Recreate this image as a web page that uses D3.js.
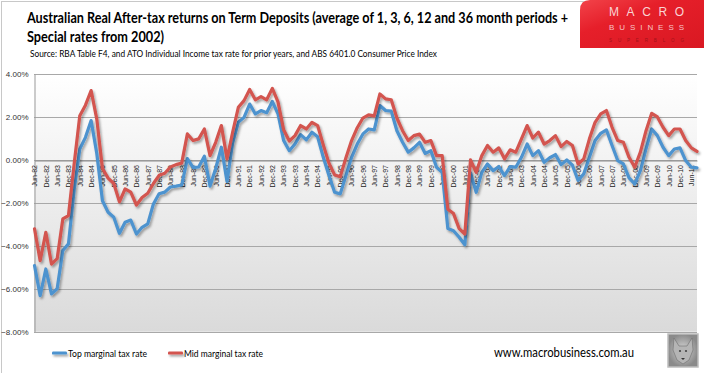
<!DOCTYPE html>
<html>
<head>
<meta charset="utf-8">
<script src="https://cdn.jsdelivr.net/npm/d3@7"></script>
<style>
html,body{margin:0;padding:0;background:#fff;}
svg{display:block;}
</style>
</head>
<body>
<svg id="chart" width="704" height="373"></svg>
<script>
// ---- DATA ----
const startYear = 1982;           // first quarter: Jun-82
const monthNames = ["Jun","Sep","Dec","Mar"];
const categories = [];
for (let i = 0; i < 118; i++) {
  const m = monthNames[i % 4];
  const yr = startYear + Math.floor((i + 1) / 4);
  categories.push(m + "-" + String(yr % 100).padStart(2, "0"));
}
const seriesNames = ["Top marginal tax rate", "Mid marginal tax rate"];
const topMarginal = [
  -4.92,-6.32,-5.08,-6.24,-6.0,-4.22,-3.91,-1.4,0.51,1.05,
  1.83,0.3,-1.9,-2.44,-2.67,-3.42,-2.9,-2.8,-3.45,-3.14,
  -2.98,-2.05,-1.58,-1.5,-1.26,-1.22,-1.17,0.06,-0.36,-0.33,
  0.17,-1.22,-0.4,0.59,-1.0,0.8,1.75,1.98,2.6,2.14,
  2.3,2.2,2.72,2.14,0.9,0.43,0.74,1.18,0.93,1.29,
  1.08,0.12,-0.73,-1.51,-1.58,-0.73,0.12,0.74,1.21,1.44,
  1.4,2.53,2.3,2.27,1.36,0.82,0.36,0.56,0.82,0.3,
  0.43,-0.34,-0.58,-3.2,-3.3,-3.6,-3.95,-0.6,-1.51,-0.58,
  -0.19,-0.5,-0.31,-0.73,-0.31,-0.34,0.12,0.74,0.2,0.43,
  -0.11,0.1,0.25,-0.22,0.0,-0.25,-0.96,-0.65,0.12,0.9,
  1.24,1.4,0.67,-0.03,-0.19,-0.84,-1.12,-0.5,0.51,1.44,
  1.13,0.59,0.2,0.51,0.56,-0.03,-0.34,-0.37
];
const midMarginal = [
  -3.21,-4.69,-3.37,-4.85,-4.6,-2.75,-2.59,-0.2,2.06,2.55,
  3.23,1.9,-0.4,-0.85,-1.1,-1.95,-1.35,-1.5,-2.1,-1.75,
  -1.55,-1.1,-0.72,-0.62,-0.33,-0.22,-0.15,1.21,0.9,0.98,
  1.44,0.2,0.82,1.6,0.05,1.3,2.45,2.76,3.28,2.8,
  2.95,2.8,3.33,2.7,1.4,0.88,1.13,1.6,1.44,1.75,
  1.6,0.7,-0.15,-0.7,-0.78,0.1,0.9,1.5,1.95,2.1,
  2.05,3.07,2.84,2.8,1.95,1.36,0.9,1.13,1.2,0.82,
  0.9,0.2,0.2,-2.3,-2.5,-3.2,-3.45,0.0,-0.58,0.2,
  0.67,0.36,0.56,0.05,0.47,0.36,0.98,1.6,1.02,1.29,
  0.74,0.9,1.13,0.62,0.86,0.67,-0.19,0.05,0.98,1.75,
  2.14,2.3,1.52,0.9,0.82,0.12,-0.34,0.36,1.36,2.17,
  2.0,1.52,1.13,1.44,1.44,0.9,0.56,0.4
];
const yTicks = [4, 2, 0, -2, -4, -6, -8];
const xTickIndex = d3.range(0, categories.length, 2);   // Jun and Dec labels

// ---- LAYOUT ----
const svg = d3.select("#chart");
const plot = {left: 34, right: 697, top: 74, bottom: 331.7};
const colors = {top: "#4d93cf", mid: "#d3544f"};

const defs = svg.append("defs");
const pg = defs.append("linearGradient").attr("id","plotGrad").attr("x1",0).attr("y1",0).attr("x2",0).attr("y2",1);
pg.append("stop").attr("offset","0%").attr("stop-color","#ffffff");
pg.append("stop").attr("offset","100%").attr("stop-color","#dadada");
const lg = defs.append("linearGradient").attr("id","logoGrad").attr("x1",0).attr("y1",0).attr("x2",1).attr("y2",1);
lg.append("stop").attr("offset","0%").attr("stop-color","#f2434a");
lg.append("stop").attr("offset","35%").attr("stop-color","#e61f2a");
lg.append("stop").attr("offset","100%").attr("stop-color","#d91822");
const sh = defs.append("filter").attr("id","shadow").attr("filterUnits","userSpaceOnUse")
  .attr("x",0).attr("y",0).attr("width",704).attr("height",373);
sh.append("feDropShadow").attr("dx",1.5).attr("dy",2).attr("stdDeviation",1).attr("flood-color","#000").attr("flood-opacity",0.35);
const wg = defs.append("radialGradient").attr("id","wolfGrad");
wg.append("stop").attr("offset","0%").attr("stop-color","#d8d8d8");
wg.append("stop").attr("offset","100%").attr("stop-color","#8a8a8a");

// chart border
svg.append("rect").attr("x",1.5).attr("y",1.5).attr("width",760).attr("height",400)
  .attr("fill","none").attr("stroke","#c8c8c8");

// scales
const x = d3.scalePoint().domain(d3.range(categories.length)).range([plot.left + 0.5, plot.right]);
const y = d3.scaleLinear().domain([-8, 4]).range([plot.bottom, plot.top]);

// plot background
svg.append("rect").attr("x",plot.left).attr("y",plot.top)
  .attr("width",plot.right-plot.left).attr("height",plot.bottom-plot.top)
  .attr("fill","url(#plotGrad)");

// gridlines
svg.append("g").selectAll("line").data(yTicks).join("line")
  .attr("x1",plot.left).attr("x2",plot.right)
  .attr("y1",d=>Math.round(y(d))+0.5).attr("y2",d=>Math.round(y(d))+0.5)
  .attr("stroke","#a8a8a8").attr("stroke-width",1);

// y axis
const yAxis = d3.axisLeft(y).tickValues(yTicks).tickSize(0).tickPadding(6)
  .tickFormat(d => d3.format(".2f")(d) + "%");
const gy = svg.append("g").attr("transform",`translate(${plot.left+0.5},0)`).call(yAxis);
gy.select(".domain").attr("stroke","#9a9a9a");
gy.selectAll("text").attr("font-family","Liberation Sans, Arial, sans-serif").attr("font-size","8px").attr("fill","#333");

// x axis at zero
const xAxis = d3.axisBottom(x).tickValues(xTickIndex).tickSize(0)
  .tickFormat(i => categories[i]);
const gx = svg.append("g").attr("transform",`translate(0,${Math.round(y(0))+0.5})`).call(xAxis);
gx.select(".domain").attr("stroke","#8c8c8c");
gx.selectAll("text")
  .attr("font-family","Liberation Sans, Arial, sans-serif").attr("font-size","7px").attr("fill","#222")
  .attr("transform","rotate(-90)").attr("text-anchor","end").attr("dy","0.33em").attr("dx","-3.5px").attr("y",0).attr("x",-1);

// lines
const line = d3.line().x((d,i)=>x(i)).y(d=>y(d)).curve(d3.curveLinear);
[[topMarginal, colors.top],[midMarginal, colors.mid]].forEach(([data, col]) => {
  svg.append("path").datum(data).attr("d", line)
    .attr("fill","none").attr("stroke",col).attr("stroke-width",3.2)
    .attr("stroke-linejoin","round").attr("stroke-linecap","round")
    .attr("filter","url(#shadow)");
});

// title
const titleFont = "Lato, 'Open Sans', sans-serif";
svg.append("text").attr("x",27).attr("y",23).attr("font-family",titleFont).attr("font-weight","bold")
  .attr("font-size","14.5px").attr("fill","#000").attr("textLength",541).attr("lengthAdjust","spacingAndGlyphs")
  .text("Australian Real After-tax returns on Term Deposits (average of 1, 3, 6, 12 and 36 month periods +");
svg.append("text").attr("x",27).attr("y",42).attr("font-family",titleFont).attr("font-weight","bold")
  .attr("font-size","14.5px").attr("fill","#000").attr("textLength",137).attr("lengthAdjust","spacingAndGlyphs")
  .text("Special rates from 2002)");
svg.append("text").attr("x",30).attr("y",56.5).attr("font-family",titleFont)
  .attr("font-size","9.3px").attr("fill","#000").attr("textLength",407).attr("lengthAdjust","spacingAndGlyphs")
  .text("Source: RBA Table F4, and ATO Individual Income tax rate for prior years, and ABS 6401.0 Consumer Price Index");

// logo
const lx = 580, lw = 124, lh = 48, r = 10;
svg.append("path").attr("d",`M${lx},${lh} L${lx},${r} Q${lx},0 ${lx+r},0 L${lx+lw},0 L${lx+lw},${lh} Z`)
  .attr("fill","url(#logoGrad)");
svg.append("text").attr("x",609).attr("y",15.5).attr("font-family","'Liberation Sans', sans-serif")
  .attr("font-size","12px").attr("fill","#f9d3d4").attr("textLength",75).attr("lengthAdjust","spacing").text("MACRO");
svg.append("text").attr("x",609).attr("y",30).attr("font-family","'Liberation Sans', sans-serif")
  .attr("font-size","8px").attr("fill","#f6c4c6").attr("textLength",75).attr("lengthAdjust","spacing").text("BUSINESS");
svg.append("text").attr("x",609).attr("y",41.5).attr("font-family","'Liberation Sans', sans-serif")
  .attr("font-size","4.5px").attr("fill","#a3121a").attr("textLength",75).attr("lengthAdjust","spacing").text("SUPERBLOG");

// legend
const legendItems = [
  {name: seriesNames[0], color: colors.top, x: 52},
  {name: seriesNames[1], color: colors.mid, x: 168}
];
const lgG = svg.append("g");
legendItems.forEach(it => {
  lgG.append("rect").attr("x",it.x).attr("y",351.4).attr("width",15).attr("height",3.2).attr("rx",1.2)
    .attr("fill",it.color).attr("filter","url(#shadow)");
  lgG.append("text").attr("x",it.x+16).attr("y",356.5).attr("font-family",titleFont)
    .attr("font-size","9.5px").attr("fill","#000").attr("textLength",79).attr("lengthAdjust","spacingAndGlyphs").text(it.name);
});

// website
svg.append("text").attr("x",494).attr("y",357).attr("font-family",titleFont)
  .attr("font-size","13px").attr("fill","#000").attr("textLength",140).attr("lengthAdjust","spacingAndGlyphs")
  .text("www.macrobusiness.com.au");

// wolf badge
const wb = svg.append("g").attr("transform","translate(668,334)");
wb.append("rect").attr("width",30).attr("height",33).attr("fill","url(#wolfGrad)").attr("stroke","#bdbdbd").attr("stroke-width",1.5);
wb.append("path").attr("d","M6,4 L11,12 L19,12 L24,4 L25,16 L21,26 L15,30 L9,26 L5,16 Z").attr("fill","#b5b5b5").attr("stroke","#6e6e6e").attr("stroke-width",0.6);
wb.append("circle").attr("cx",12).attr("cy",17).attr("r",1.1).attr("fill","#444");
wb.append("circle").attr("cx",18).attr("cy",17).attr("r",1.1).attr("fill","#444");
wb.append("path").attr("d","M13,24 L15,26 L17,24 Z").attr("fill","#333");
</script>
</body>
</html>
